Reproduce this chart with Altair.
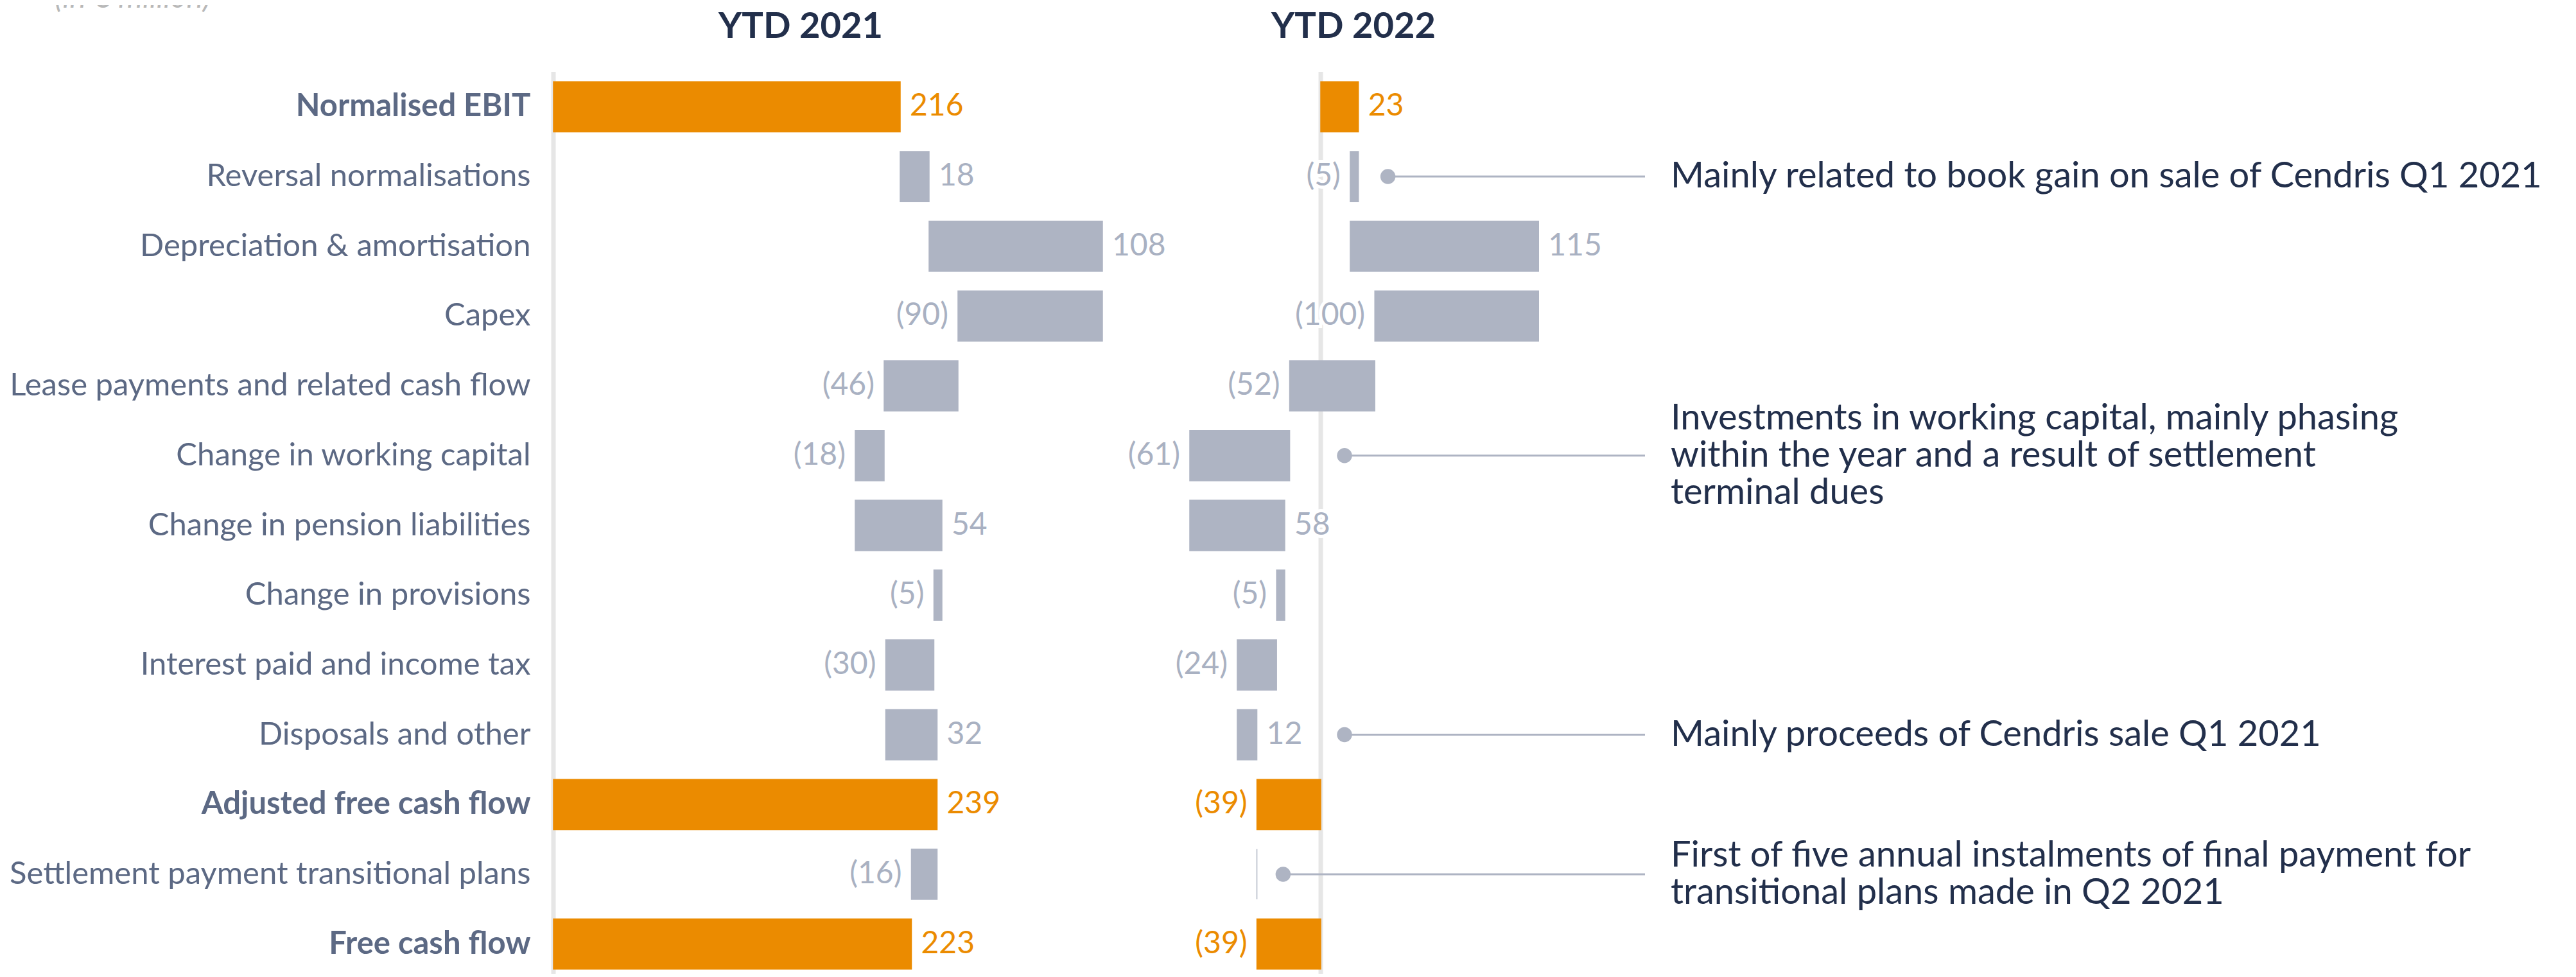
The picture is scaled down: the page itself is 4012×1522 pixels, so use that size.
import altair as alt
import pandas as pd

# ---------------- data ----------------
categories = [
    "Normalised EBIT",
    "Reversal normalisations",
    "Depreciation & amortisation",
    "Capex",
    "Lease payments and related cash flow",
    "Change in working capital",
    "Change in pension liabilities",
    "Change in provisions",
    "Interest paid and income tax",
    "Disposals and other",
    "Adjusted free cash flow",
    "Settlement payment transitional plans",
    "Free cash flow",
]
is_total = [True, False, False, False, False, False, False, False, False, False, True, False, True]
values_2021 = [216, 18, 108, -90, -46, -18, 54, -5, -30, 32, 239, -16, 223]
values_2022 = [23, -5, 115, -100, -52, -61, 58, -5, -24, 12, -39, 0, -39]

note_rows = [
    "Reversal normalisations",
    "Change in working capital",
    "Disposals and other",
    "Settlement payment transitional plans",
]
note_anchor_2022 = [41, 14.5, 14.5, -23]
note_texts = [
    "Mainly related to book gain on sale of Cendris Q1 2021",
    "Investments in working capital, mainly phasing\nwithin the year and a result of settlement\nterminal dues",
    "Mainly proceeds of Cendris sale Q1 2021",
    "First of five annual instalments of final payment for\ntransitional plans made in Q2 2021",
]
bold_rows = ["Normalised EBIT", "Adjusted free cash flow", "Free cash flow"]
unit_note = "(in € million)"

# ---------------- style ----------------
ORANGE = "#eb8b00"
GREY = "#aeb4c3"
LABEL_GREY = "#a9b1c2"
CAT_COLOR = "#5c6984"
NAVY = "#222f4b"
AXIS_LINE = "#e6e6e6"
FONT = "Lato"

PX21, PX22 = 2.5, 2.55
X21 = [0, 360]
X22 = [-100, 198]
W21 = (X21[1] - X21[0]) * PX21
W22 = round((X22[1] - X22[0]) * PX22)
H = 1413
SPACING = 40
NOTE_LH = 58
P_INNER = 0.28
HALF_BAND = H / len(categories) * (1 - P_INNER) / 2


def waterfall(values):
    rows, run = [], 0
    for cat, tot, v in zip(categories, is_total, values):
        start, end = (0, v) if tot else (run, run + v)
        run = end
        rows.append(dict(category=cat, total=tot, value=v, start=start, end=end))
    return pd.DataFrame(rows)


df21 = waterfall(values_2021)
df22 = waterfall(values_2022)
notes = pd.DataFrame({"category": note_rows, "anchor": note_anchor_2022, "note": note_texts})

yscale = alt.Scale(domain=categories, paddingInner=P_INNER, paddingOuter=P_INNER / 2)
bold_test = "indexof(" + str(bold_rows) + ", datum.value) >= 0"
y_axis = alt.Axis(
    title=None, domain=False, ticks=False, labelPadding=36, labelFont=FONT,
    labelFontSize=49, labelColor=CAT_COLOR, labelLimit=2000,
    labelFontWeight={"condition": {"test": bold_test, "value": "bold"}, "value": "normal"},
)


def panel(df, xdom, axis):
    xs = alt.Scale(domain=xdom, nice=False, zero=False)
    y = alt.Y("category:N", sort=categories, scale=yscale, axis=axis)
    base = alt.Chart(df).transform_calculate(
        lpos="datum.value >= 0 ? max(datum.start, datum.end) : min(datum.start, datum.end)",
        label="datum.value < 0 ? '(' + abs(datum.value) + ')' : (datum.value == 0 ? '' : '' + datum.value)",
    )
    rule = alt.Chart(pd.DataFrame({"z": [0]})).mark_rule(color=AXIS_LINE, strokeWidth=7).encode(
        x=alt.X("z:Q", scale=xs, axis=None)
    )
    color = alt.condition("datum.total", alt.value(ORANGE), alt.value(GREY))
    bars = base.mark_bar(strokeWidth=1.5).encode(
        x=alt.X("start:Q", scale=xs, axis=None), x2="end:Q", y=y, color=color, stroke=color
    )
    halos, texts = [], []
    for filt, align, dx in [("datum.value > 0", "left", 15), ("datum.value < 0", "right", -15)]:
        common = dict(align=align, baseline="middle", dx=dx, font=FONT, fontSize=48)
        enc = dict(x=alt.X("lpos:Q", scale=xs, axis=None), y=y, text="label:N")
        halos.append(base.transform_filter(filt).mark_text(
            color="white", stroke="white", strokeWidth=10, **common).encode(**enc))
        texts.append(base.transform_filter(filt).mark_text(**common).encode(
            color=alt.condition("datum.total", alt.value(ORANGE), alt.value(LABEL_GREY)), **enc))
    layers = [rule] + halos + [bars] + texts
    return layers, xs, y


ttl = dict(font=FONT, fontSize=56, fontWeight="bold", color=NAVY, anchor="middle",
           baseline="alphabetic", offset=-6)

l1, xs1, y1 = panel(df21, X21, y_axis)
p1 = alt.layer(*l1).properties(
    width=W21, height=H, title=alt.TitleParams("YTD 2021", dx=-65, **ttl)
)

l2, xs2, y2 = panel(df22, X22, None)
lines = alt.Chart(notes).mark_rule(color=GREY, strokeWidth=3).encode(
    x=alt.X("anchor:Q", scale=xs2, axis=None), x2=alt.datum(X22[1]), y=y2
)
dots = alt.Chart(notes).mark_circle(size=550, color=GREY, opacity=1).encode(
    x=alt.X("anchor:Q", scale=xs2, axis=None), y=y2
)
p2 = alt.layer(*l2, lines, dots).properties(
    width=W22, height=H, title=alt.TitleParams("YTD 2022", dx=-74, **ttl)
)

# multi-line notes are centred on their row
note_text = alt.Chart(notes).transform_calculate(
    shift="%f - (length(split(datum.note, '\\n')) - 1) * %d / 2" % (HALF_BAND, NOTE_LH)
).mark_text(
    align="left", baseline="middle", lineBreak="\n", font=FONT, fontSize=56,
    lineHeight=NOTE_LH, color=NAVY
).encode(
    x=alt.value(0),
    y=alt.Y("category:N", sort=categories, scale=yscale, axis=None),
    yOffset=alt.YOffset("shift:Q", scale=None),
    text="note:N",
)
# unit caption sits at the far top-left of the figure (partly cut off in the original)
unit = alt.Chart(pd.DataFrame({"t": [unit_note]})).mark_text(
    align="left", baseline="alphabetic", font=FONT, fontSize=48, fontStyle="italic", color="#b8b8b8"
).encode(text="t:N", x=alt.value(-(W21 + W22 + 2 * SPACING + 777)), y=alt.value(-100))
p3 = alt.layer(note_text, unit).properties(width=1300, height=H)

chart = (
    alt.hconcat(p1, p2, p3, spacing=SPACING, bounds="flush")
    .resolve_scale(x="independent", y="independent")
    .configure_view(stroke=None)
    .properties(padding={"left": 6, "top": -34, "right": 0, "bottom": -12}, background="white")
)

chart.save("out.html", embed_options={"renderer": "svg", "actions": False})
